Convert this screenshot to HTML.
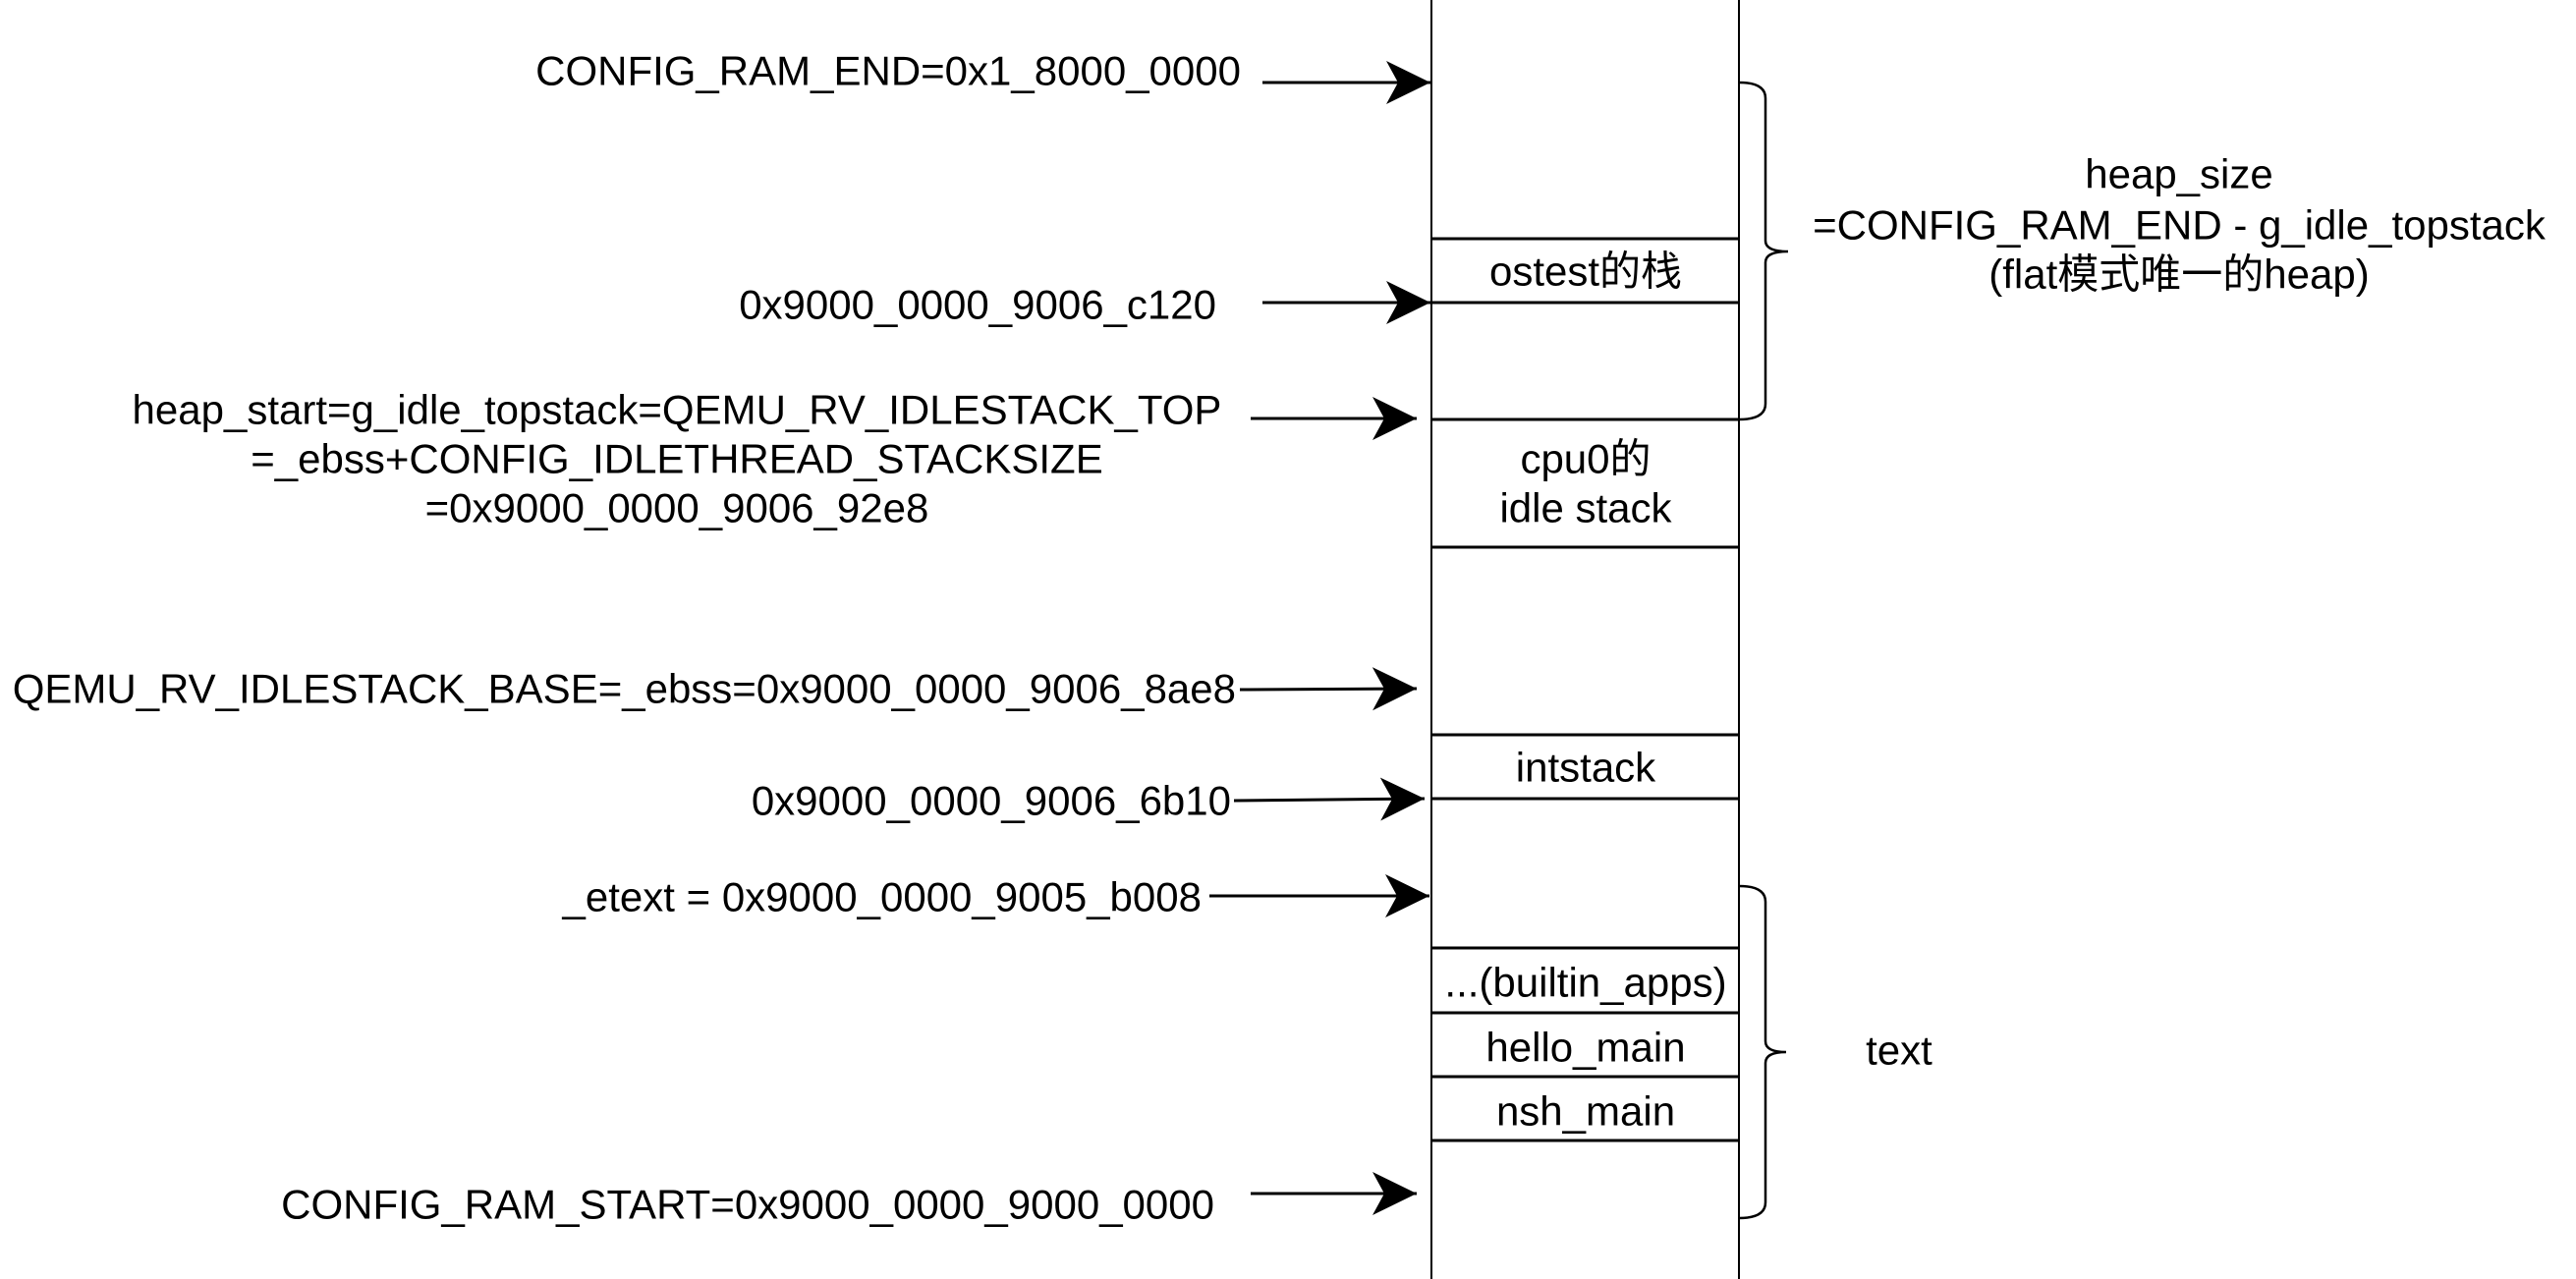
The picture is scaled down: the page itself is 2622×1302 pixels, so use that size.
<!DOCTYPE html>
<html><head><meta charset="utf-8"><style>
html,body{margin:0;padding:0;background:#fff;}
svg{display:block;}
text{font-family:"Liberation Sans","Noto Sans CJK SC",sans-serif;font-size:42px;fill:#000;dominant-baseline:central;}
</style></head><body>
<svg width="2622" height="1302" viewBox="0 0 2622 1302" xmlns="http://www.w3.org/2000/svg">
<defs>
<marker id="ah" markerUnits="userSpaceOnUse" markerWidth="50" markerHeight="50" refX="45" refY="22" orient="auto">
<path d="M0,0 L45,22 L0,44 L12,22 Z" fill="#000"/>
</marker>
</defs>
<g stroke="#000" fill="none">
<line x1="1457" y1="0" x2="1457" y2="1302" stroke-width="2"/>
<line x1="1770" y1="0" x2="1770" y2="1302" stroke-width="2"/>
<g stroke-width="3">
<line x1="1457" y1="243" x2="1770" y2="243"/>
<line x1="1457" y1="308" x2="1770" y2="308"/>
<line x1="1457" y1="427" x2="1770" y2="427"/>
<line x1="1457" y1="557" x2="1770" y2="557"/>
<line x1="1457" y1="748" x2="1770" y2="748"/>
<line x1="1457" y1="813" x2="1770" y2="813"/>
<line x1="1457" y1="965" x2="1770" y2="965"/>
<line x1="1457" y1="1031" x2="1770" y2="1031"/>
<line x1="1457" y1="1096" x2="1770" y2="1096"/>
<line x1="1457" y1="1161" x2="1770" y2="1161"/>
</g>
<g stroke-width="3" marker-end="url(#ah)">
<line x1="1285" y1="84" x2="1456" y2="84"/>
<line x1="1285" y1="308" x2="1456" y2="308"/>
<line x1="1273" y1="426" x2="1442" y2="426"/>
<line x1="1262" y1="702" x2="1442" y2="701"/>
<line x1="1256" y1="815" x2="1450" y2="813"/>
<line x1="1231" y1="912" x2="1455" y2="912"/>
<line x1="1273" y1="1215" x2="1442" y2="1215"/>
</g>
<path d="M1770,84 Q1797,84 1797,100 L1797,245 Q1797,256 1820,256 Q1797,256 1797,267 L1797,411 Q1797,427 1770,427" stroke-width="2.5"/>
<path d="M1770,902 Q1797,902 1797,918 L1797,1060 Q1797,1071 1818,1071 Q1797,1071 1797,1082 L1797,1224 Q1797,1240 1770,1240" stroke-width="2.5"/>
</g>
<g text-anchor="end">
<text x="1263" y="72">CONFIG_RAM_END=0x1_8000_0000</text>
<text x="1238" y="310">0x9000_0000_9006_c120</text>
<text x="1258" y="701">QEMU_RV_IDLESTACK_BASE=_ebss=0x9000_0000_9006_8ae8</text>
<text x="1253" y="815">0x9000_0000_9006_6b10</text>
<text x="1223" y="913">_etext = 0x9000_0000_9005_b008</text>
<text x="1236" y="1226">CONFIG_RAM_START=0x9000_0000_9000_0000</text>
</g>
<g text-anchor="middle">
<text x="689" y="417">heap_start=g_idle_topstack=QEMU_RV_IDLESTACK_TOP</text>
<text x="689" y="467">=_ebss+CONFIG_IDLETHREAD_STACKSIZE</text>
<text x="689" y="517">=0x9000_0000_9006_92e8</text>
<text x="1614" y="276">ostest的栈</text>
<text x="1614" y="467">cpu0的</text>
<text x="1614" y="517">idle stack</text>
<text x="1614" y="781">intstack</text>
<text x="1614" y="1000">...(builtin_apps)</text>
<text x="1614" y="1066">hello_main</text>
<text x="1614" y="1131">nsh_main</text>
<text x="2218" y="177">heap_size</text>
<text x="2218" y="229">=CONFIG_RAM_END - g_idle_topstack</text>
<text x="2218" y="279">(flat模式唯一的heap)</text>
<text x="1933" y="1069">text</text>
</g>
</svg>
</body></html>
